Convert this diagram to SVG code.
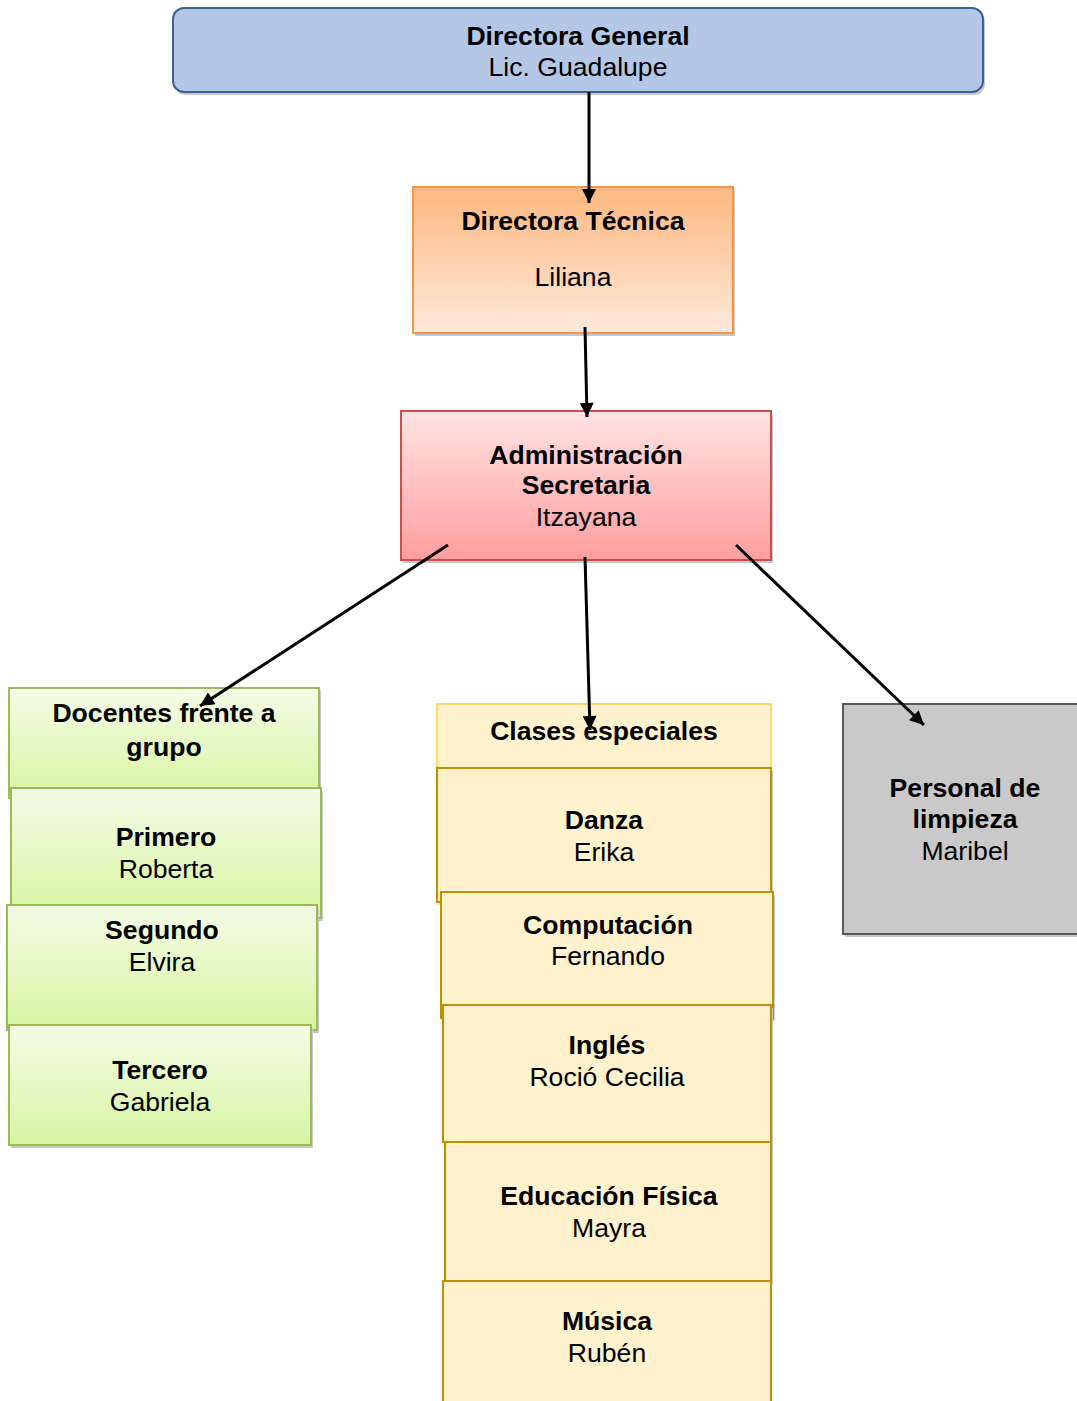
<svg xmlns="http://www.w3.org/2000/svg" width="1077" height="1401" viewBox="0 0 1077 1401">
<style>
text{font-family:"Liberation Sans",Arial,sans-serif;font-size:26.6px;fill:#000;text-anchor:middle}
.b{font-weight:bold}
.sh{fill:#c8c8c8}
.conn line{stroke:#000;stroke-width:3;fill:none}
.green{fill:url(#gGreen);stroke:#9bbb59;stroke-width:2}
.yel{fill:#fff2cc;stroke:#bf9000;stroke-width:2}
</style>
<defs>
<linearGradient id="gBlue" x1="0" y1="0" x2="0" y2="1"><stop offset="0" stop-color="#b4c7e7"/><stop offset="1" stop-color="#b4c7e7"/></linearGradient>
<linearGradient id="gOrange" x1="0" y1="0" x2="0" y2="1"><stop offset="0" stop-color="#fdb87f"/><stop offset="1" stop-color="#fee9da"/></linearGradient>
<linearGradient id="gRed" x1="0" y1="0" x2="0" y2="1"><stop offset="0" stop-color="#ffe3e3"/><stop offset="1" stop-color="#ff9e9e"/></linearGradient>
<linearGradient id="gGreen" x1="0" y1="0" x2="0" y2="1"><stop offset="0" stop-color="#f4fce6"/><stop offset="1" stop-color="#d8f5a2"/></linearGradient>
<marker id="arr" viewBox="0 0 10 10" refX="10" refY="5" markerWidth="17" markerHeight="14" markerUnits="userSpaceOnUse" orient="auto"><path d="M0,0 L10,5 L0,10 z" fill="#000"/></marker>
</defs>

<g id="directora-general">
<rect class="sh" x="175" y="11" width="810" height="84" rx="11"/>
<rect x="173" y="8" width="810" height="84" rx="11" fill="url(#gBlue)" stroke="#3e5f9a" stroke-width="2"/>
<text class="b" x="578" y="45">Directora General</text>
<text x="578" y="76">Lic. Guadalupe</text>
</g>

<g id="directora-tecnica">
<rect class="sh" x="415" y="190" width="320" height="146"/>
<rect x="413" y="187" width="320" height="146" fill="url(#gOrange)" stroke="#f79646" stroke-width="2"/>
<text class="b" x="573" y="230">Directora Técnica</text>
<text x="573" y="286">Liliana</text>
</g>

<g id="administracion">
<rect class="sh" x="403" y="414" width="370" height="149"/>
<rect x="401" y="411" width="370" height="149" fill="url(#gRed)" stroke="#c9504f" stroke-width="2"/>
<text class="b" x="586" y="464">Administración</text>
<text class="b" x="586" y="494">Secretaria</text>
<text x="586" y="526">Itzayana</text>
</g>

<g id="docentes">
<rect class="sh" x="11" y="691" width="310" height="110"/>
<rect class="green" x="9" y="688" width="310" height="110"/>
<text class="b" x="164" y="722">Docentes frente a</text>
<text class="b" x="164" y="756">grupo</text>
</g>

<g id="primero">
<rect class="sh" x="13" y="791" width="310" height="130"/>
<rect class="green" x="11" y="788" width="310" height="130"/>
<text class="b" x="166" y="846">Primero</text>
<text x="166" y="878">Roberta</text>
</g>

<g id="segundo">
<rect class="sh" x="9" y="908" width="310" height="125"/>
<rect class="green" x="7" y="905" width="310" height="125"/>
<text class="b" x="162" y="939">Segundo</text>
<text x="162" y="971">Elvira</text>
</g>

<g id="tercero">
<rect class="sh" x="11" y="1028" width="302" height="120"/>
<rect class="green" x="9" y="1025" width="302" height="120"/>
<text class="b" x="160" y="1079">Tercero</text>
<text x="160" y="1111">Gabriela</text>
</g>

<g id="clases-especiales">
<rect x="437" y="704" width="334" height="64" fill="#fff2cc" stroke="#ffd966" stroke-width="2"/>
<text class="b" x="604" y="740">Clases especiales</text>
</g>

<g id="danza">
<rect class="sh" x="439" y="771" width="334" height="134"/>
<rect class="yel" x="437" y="768" width="334" height="134"/>
<text class="b" x="604" y="829">Danza</text>
<text x="604" y="861">Erika</text>
</g>

<g id="computacion">
<rect class="sh" x="443" y="895" width="332" height="126"/>
<rect class="yel" x="441" y="892" width="332" height="126"/>
<text class="b" x="608" y="934">Computación</text>
<text x="608" y="965">Fernando</text>
</g>

<g id="ingles">
<rect class="sh" x="445" y="1008" width="328" height="137"/>
<rect class="yel" x="443" y="1005" width="328" height="137"/>
<text class="b" x="607" y="1054">Inglés</text>
<text x="607" y="1086">Roció Cecilia</text>
</g>

<g id="educacion-fisica">
<rect class="sh" x="447" y="1145" width="326" height="139"/>
<rect class="yel" x="445" y="1142" width="326" height="139"/>
<text class="b" x="609" y="1205">Educación Física</text>
<text x="609" y="1237">Mayra</text>
</g>

<g id="musica">
<rect class="yel" x="443" y="1281" width="328" height="140"/>
<text class="b" x="607" y="1330">Música</text>
<text x="607" y="1362">Rubén</text>
</g>

<g id="personal-limpieza">
<rect class="sh" x="845" y="707" width="240" height="230"/>
<rect x="843" y="704" width="240" height="230" fill="#c9c9c9" stroke="#595959" stroke-width="2"/>
<text class="b" x="965" y="797">Personal de</text>
<text class="b" x="965" y="828">limpieza</text>
<text x="965" y="860">Maribel</text>
</g>

<g id="connectors" class="conn">
<line x1="589" y1="92" x2="589" y2="203" marker-end="url(#arr)"/>
<line x1="585" y1="327" x2="587" y2="417" marker-end="url(#arr)"/>
<line x1="448" y1="545" x2="200" y2="706" marker-end="url(#arr)"/>
<line x1="585" y1="557" x2="590" y2="730" marker-end="url(#arr)"/>
<line x1="736" y1="545" x2="924" y2="725" marker-end="url(#arr)"/>
</g>
</svg>
